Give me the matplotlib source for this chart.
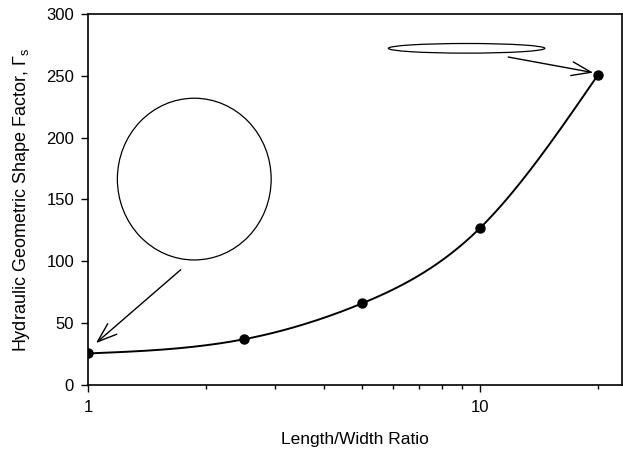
import numpy as np
import matplotlib
matplotlib.use("Agg")
import matplotlib.pyplot as plt
from matplotlib.patches import Ellipse
from matplotlib.ticker import LogLocator, NullFormatter, FixedLocator, FixedFormatter

plt.rcParams['font.family'] = ['Liberation Sans', 'DejaVu Sans']
plt.rcParams['mathtext.fontset'] = 'custom'
plt.rcParams['mathtext.rm'] = 'Liberation Sans'
plt.rcParams['mathtext.it'] = 'Liberation Sans'

# Data
ratio = [1, 2.5, 5, 10, 20]
shape_factor = [25.5, 37, 66, 127, 251]
x_ticks = [1, 10]
x_ticklabels = ["1", "10"]
y_ticks = [0, 50, 100, 150, 200, 250, 300]


def natural_spline(x, y, xs):
    x = np.asarray(x, float); y = np.asarray(y, float)
    n = len(x)
    h = np.diff(x)
    A = np.zeros((n, n)); b = np.zeros(n)
    A[0, 0] = 1; A[-1, -1] = 1
    for i in range(1, n - 1):
        A[i, i - 1] = h[i - 1]
        A[i, i] = 2 * (h[i - 1] + h[i])
        A[i, i + 1] = h[i]
        b[i] = 3 * ((y[i + 1] - y[i]) / h[i] - (y[i] - y[i - 1]) / h[i - 1])
    c = np.linalg.solve(A, b)
    out = np.empty_like(xs)
    for k, xv in enumerate(xs):
        i = min(max(np.searchsorted(x, xv) - 1, 0), n - 2)
        dx = xv - x[i]
        bi = (y[i + 1] - y[i]) / h[i] - h[i] * (2 * c[i] + c[i + 1]) / 3
        di = (c[i + 1] - c[i]) / (3 * h[i])
        out[k] = y[i] + bi * dx + c[i] * dx ** 2 + di * dx ** 3
    return out


lx = np.log10(ratio)
xs = np.linspace(lx[0], lx[-1], 300)
ys = natural_spline(lx, shape_factor, xs)

fig = plt.figure(figsize=(6.23, 4.5), dpi=100)
ax = fig.add_axes([88 / 623, 65 / 450, 534 / 623, 371 / 450])

ax.plot(10 ** xs, ys, color='black', lw=1.4)
ax.plot(ratio, shape_factor, 'o', color='black', ms=6.5)

ax.set_xscale('log')
ax.set_xlim(1, 23)
ax.set_ylim(0, 300)
ax.xaxis.set_major_locator(FixedLocator(x_ticks))
ax.xaxis.set_major_formatter(FixedFormatter(x_ticklabels))
ax.xaxis.set_minor_locator(LogLocator(base=10, subs=np.arange(2, 10)))
ax.xaxis.set_minor_formatter(NullFormatter())
ax.set_yticks(y_ticks)

ax.tick_params(axis='both', which='major', direction='out', length=5, width=1,
               labelsize=12, colors='black', pad=5)
ax.tick_params(axis='x', which='minor', direction='out', length=3, width=1)
ax.tick_params(axis='x', which='major', pad=6)
for s in ax.spines.values():
    s.set_linewidth(1.2)

ax.set_xlabel('Length/Width Ratio', fontsize=12.5, labelpad=12)
ax.set_ylabel(r'Hydraulic Geometric Shape Factor, $\Gamma_{\rm s}$', fontsize=13, labelpad=10)

# Shapes
ax.add_patch(Ellipse((0.199, 0.555), 0.288, 0.436, transform=ax.transAxes,
                     fill=False, ec='black', lw=0.9))
ax.add_patch(Ellipse((0.709, 0.9075), 0.293, 0.026, transform=ax.transAxes,
                     fill=False, ec='black', lw=0.9))

ap = dict(arrowstyle='->,head_length=1.4,head_width=0.5', color='black', lw=1.0,
          shrinkA=0, shrinkB=0)
ax.annotate('', xy=(0.0149, 0.113), xytext=(0.1736, 0.3106),
            xycoords='axes fraction', textcoords='axes fraction', arrowprops=ap)
ax.annotate('', xy=(0.946, 0.842), xytext=(0.787, 0.884),
            xycoords='axes fraction', textcoords='axes fraction', arrowprops=ap)

fig.savefig('out.png', dpi=100)
